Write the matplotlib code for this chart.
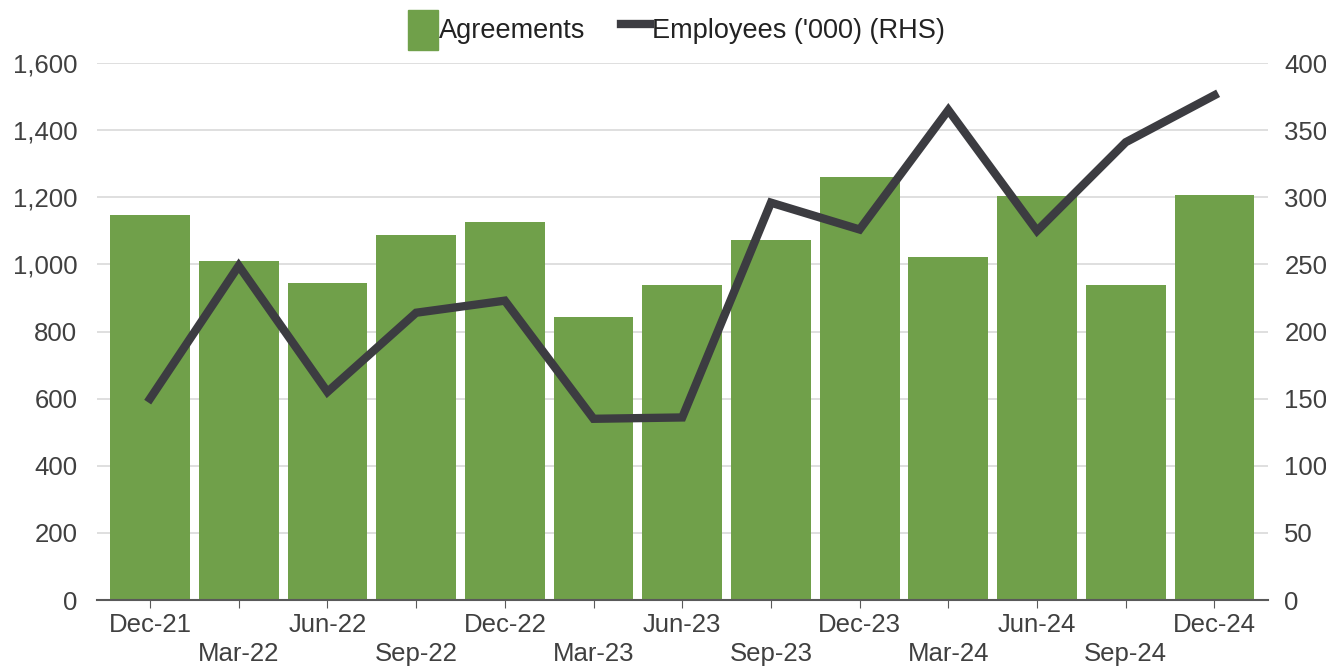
import numpy as np
import matplotlib
matplotlib.use("Agg")
import matplotlib.pyplot as plt
from matplotlib.patches import Patch
from matplotlib.lines import Line2D

quarters = ["Dec-21", "Mar-22", "Jun-22", "Sep-22", "Dec-22", "Mar-23", "Jun-23",
            "Sep-23", "Dec-23", "Mar-24", "Jun-24", "Sep-24", "Dec-24"]
agreements = [1147, 1010, 944, 1087, 1126, 843, 938, 1073, 1260, 1022, 1204, 938, 1207]
employees = [150, 249, 155, 214, 223, 135, 136, 296, 276, 365, 275, 341, 376]

bar_color = "#70A04A"
line_color = "#3C3C41"
text_color = "#404040"

plt.rcParams['font.family'] = ['Liberation Sans', 'DejaVu Sans']

fig = plt.figure(figsize=(13.26, 6.67), dpi=100)
ax = fig.add_axes([0.073, 0.1004, 0.883, 0.8051])
ax2 = ax.twinx()

x = np.arange(len(quarters))
ax.bar(x, agreements, width=0.9, color=bar_color, zorder=2)
ax2.plot(x, employees, color=line_color, lw=6, solid_joinstyle="miter", zorder=3)

ax.set_xlim(-0.6, len(quarters) - 0.4)
ax.set_ylim(0, 1600)
ax2.set_ylim(0, 400)
ax.set_yticks(np.arange(0, 1601, 200))
ax.set_yticklabels(["{:,}".format(v) for v in range(0, 1601, 200)])
ax2.set_yticks(np.arange(0, 401, 50))

ax.grid(axis="y", color="#D9D9D9", lw=1.2, zorder=0)
ax.set_axisbelow(True)
for a in (ax, ax2):
    for s in ["top", "left", "right"]:
        a.spines[s].set_visible(False)
ax2.spines["bottom"].set_visible(False)
ax.spines["bottom"].set_color("#595959")
ax.spines["bottom"].set_linewidth(1.5)

ax.set_xticks(x)
ax.set_xticklabels([q if i % 2 == 0 else "\n" + q for i, q in enumerate(quarters)])
ax.tick_params(axis="x", length=6, color="#595959", labelsize=18.5, labelcolor=text_color,
               pad=3)
ax.tick_params(axis="y", length=0, labelsize=18.5, labelcolor=text_color, pad=14)
ax2.tick_params(axis="y", length=0, labelsize=18.5, labelcolor=text_color, pad=12)
for t in ax.get_xticklabels():
    t.set_linespacing(1.3)

handles = [Patch(color=bar_color), Line2D([0], [0], color=line_color, lw=6)]
fig.legend(handles, ["Agreements", "Employees ('000) (RHS)"], loc="upper center",
           bbox_to_anchor=(0.51, 1.022), ncol=2, frameon=False, fontsize=19.5,
           handlelength=1.1, handleheight=1.9, handletextpad=0.05, columnspacing=1.3,
           labelcolor="#222222")

fig.savefig("out.png", dpi=100)
